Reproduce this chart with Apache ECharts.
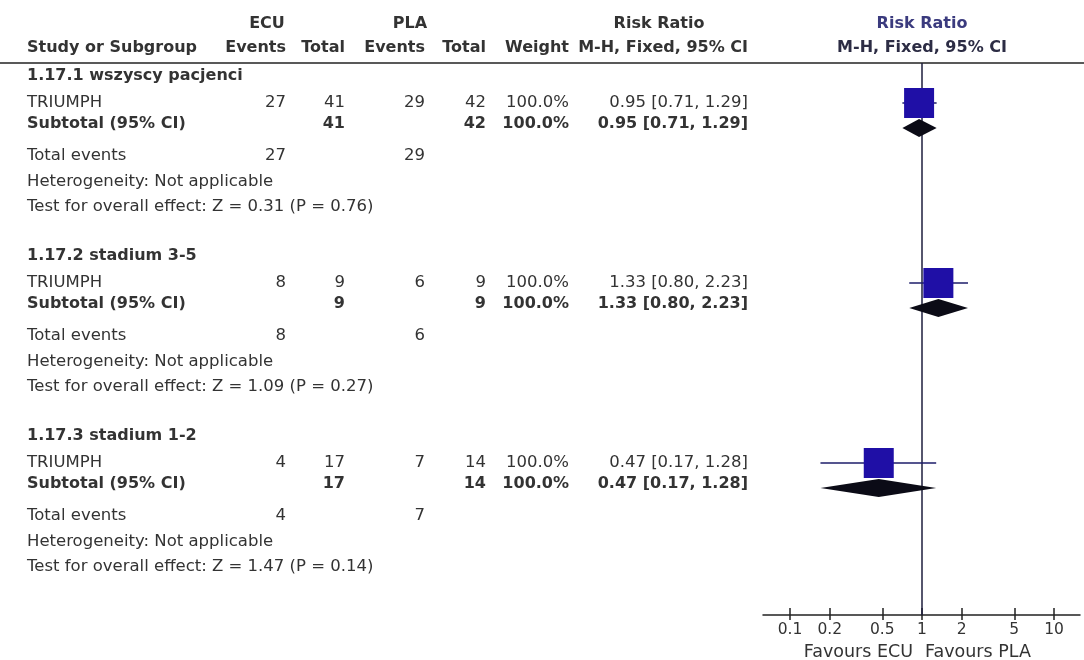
<!DOCTYPE html>
<html>
<head>
<meta charset="utf-8">
<script src="https://cdn.jsdelivr.net/npm/echarts@6/dist/echarts.min.js"></script>
<style>
  html, body { margin: 0; padding: 0; background: #ffffff; }
  #chart { width: 1084px; height: 660px; }
</style>
</head>
<body>
<div id="chart"></div>
<script>
// ---- data -------------------------------------------------------------
const subgroups = ['1.17.1 wszyscy pacjenci', '1.17.2 stadium 3-5', '1.17.3 stadium 1-2'];
const studies = ['TRIUMPH', 'TRIUMPH', 'TRIUMPH'];
const ecuEvents = [27, 8, 4];
const ecuTotal = [41, 9, 17];
const plaEvents = [29, 6, 7];
const plaTotal = [42, 9, 14];
const weights = [100.0, 100.0, 100.0];
const studyRR = [0.95, 1.33, 0.47];
const studyLow = [0.71, 0.80, 0.17];
const studyHigh = [1.29, 2.23, 1.28];
const subtotalRR = [0.95, 1.33, 0.47];
const subtotalLow = [0.71, 0.80, 0.17];
const subtotalHigh = [1.29, 2.23, 1.28];
const zValues = [0.31, 1.09, 1.47];
const pValues = [0.76, 0.27, 0.14];
const tickValues = [0.1, 0.2, 0.5, 1, 2, 5, 10];
const groupNames = ['ECU', 'PLA'];

// ---- layout -----------------------------------------------------------
const FONT = '"DejaVu Sans", "Liberation Sans", sans-serif';
const SIZE = 16.5;
const BOLD_SIZE = 16;
const TEXT = '#333333';
const GROUP_TOP = [76, 256, 436];
const OFF = { title: 0, study: 27, subtotal: 48, total: 80, het: 106, test: 131 };
const COL = { name: 27, ecuEv: 286, ecuTot: 345, plaEv: 425, plaTot: 486, weight: 569, ci: 748 };
const HEAD1 = 24, HEAD2 = 48, RULE = 63, AXIS_Y = 615;
const PLOT_LEFT = 763, PLOT_RIGHT = 1080;
const X_MIN = -1.205, X_MAX = 1.197;   // log10(RR) range of the plot area
const SQUARE_MAX = 30;
const DIAMOND_HALF = 9;

const fmt2 = v => v.toFixed(2);
const ciText = (e, l, h) => fmt2(e) + ' [' + fmt2(l) + ', ' + fmt2(h) + ']';

const graphics = [];
function txt(x, y, text, align, bold, color, size) {
  graphics.push({
    type: 'text', silent: true, z: 10,
    style: {
      x: x, y: y, text: text,
      align: align || 'left', verticalAlign: 'middle',
      fill: color || TEXT,
      font: (bold ? 'bold ' : '') + (size || (bold ? BOLD_SIZE : SIZE)) + 'px ' + FONT
    }
  });
}

// column headers
txt(267, HEAD1, groupNames[0], 'center', true);
txt(410, HEAD1, groupNames[1], 'center', true);
txt(659, HEAD1, 'Risk Ratio', 'center', true);
txt(922, HEAD1, 'Risk Ratio', 'center', true, '#3b3b7e');
txt(COL.name, HEAD2, 'Study or Subgroup', 'left', true);
txt(COL.ecuEv, HEAD2, 'Events', 'right', true);
txt(COL.ecuTot, HEAD2, 'Total', 'right', true);
txt(COL.plaEv, HEAD2, 'Events', 'right', true);
txt(COL.plaTot, HEAD2, 'Total', 'right', true);
txt(COL.weight, HEAD2, 'Weight', 'right', true);
txt(COL.ci, HEAD2, 'M-H, Fixed, 95% CI', 'right', true);
txt(922, HEAD2, 'M-H, Fixed, 95% CI', 'center', true, '#2c2c44');
graphics.push({
  type: 'line', silent: true,
  shape: { x1: 0, y1: RULE, x2: 1084, y2: RULE },
  style: { stroke: '#222222', lineWidth: 1.5 }
});

// subgroup blocks
subgroups.forEach((name, g) => {
  const top = GROUP_TOP[g];
  txt(COL.name, top + OFF.title, name, 'left', true);

  const ys = top + OFF.study;
  txt(COL.name, ys, studies[g]);
  txt(COL.ecuEv, ys, String(ecuEvents[g]), 'right');
  txt(COL.ecuTot, ys, String(ecuTotal[g]), 'right');
  txt(COL.plaEv, ys, String(plaEvents[g]), 'right');
  txt(COL.plaTot, ys, String(plaTotal[g]), 'right');
  txt(COL.weight, ys, weights[g].toFixed(1) + '%', 'right');
  txt(COL.ci, ys, ciText(studyRR[g], studyLow[g], studyHigh[g]), 'right');

  const yt = top + OFF.subtotal;
  txt(COL.name, yt, 'Subtotal (95% CI)', 'left', true);
  txt(COL.ecuTot, yt, String(ecuTotal[g]), 'right', true);
  txt(COL.plaTot, yt, String(plaTotal[g]), 'right', true);
  txt(COL.weight, yt, weights[g].toFixed(1) + '%', 'right', true);
  txt(COL.ci, yt, ciText(subtotalRR[g], subtotalLow[g], subtotalHigh[g]), 'right', true);

  txt(COL.name, top + OFF.total, 'Total events');
  txt(COL.ecuEv, top + OFF.total, String(ecuEvents[g]), 'right');
  txt(COL.plaEv, top + OFF.total, String(plaEvents[g]), 'right');
  txt(COL.name, top + OFF.het, 'Heterogeneity: Not applicable');
  txt(COL.name, top + OFF.test,
      'Test for overall effect: Z = ' + fmt2(zValues[g]) + ' (P = ' + fmt2(pValues[g]) + ')');
});

// axis captions
txt(913, 652, 'Favours ' + groupNames[0], 'right', false, TEXT, 17.5);
txt(925, 652, 'Favours ' + groupNames[1], 'left', false, TEXT, 17.5);

// ---- series data (x in log10 of the risk ratio) -----------------------
const studyData = subgroups.map((_, g) => [
  Math.log10(studyRR[g]), GROUP_TOP[g] + OFF.study,
  Math.log10(studyLow[g]), Math.log10(studyHigh[g]), weights[g]
]);
const subtotalData = subgroups.map((_, g) => [
  Math.log10(subtotalRR[g]), GROUP_TOP[g] + OFF.subtotal + 4,
  Math.log10(subtotalLow[g]), Math.log10(subtotalHigh[g])
]);
const logTicks = tickValues.map(v => Math.log10(v));
const tickLabel = v => String(+Math.pow(10, v).toPrecision(3));

const chart = echarts.init(document.getElementById('chart'), null, { renderer: 'canvas' });
chart.setOption({
  animation: false,
  backgroundColor: '#ffffff',
  grid: { left: PLOT_LEFT, right: 1084 - PLOT_RIGHT, top: RULE, bottom: 660 - AXIS_Y, containLabel: false },
  xAxis: [{
    type: 'value', min: X_MIN, max: X_MAX, position: 'bottom',
    splitLine: { show: false },
    axisLine: { show: true, onZero: false, lineStyle: { color: '#222222', width: 1.5 } },
    axisTick: { show: true, inside: false, length: 5, customValues: logTicks,
                lineStyle: { color: '#222222', width: 1.5 } },
    axisLabel: { show: true, customValues: logTicks, formatter: tickLabel, margin: 7,
                 color: TEXT, fontFamily: FONT, fontSize: 15.5 }
  }, {
    type: 'value', min: X_MIN, max: X_MAX, position: 'bottom',
    splitLine: { show: false },
    axisLine: { show: false },
    axisTick: { show: true, inside: true, length: 7, customValues: logTicks,
                lineStyle: { color: '#222222', width: 1.5 } },
    axisLabel: { show: false }
  }],
  yAxis: {
    type: 'value', inverse: true, min: RULE, max: AXIS_Y, show: false
  },
  graphic: graphics,
  series: [{
    // line of no effect (RR = 1), drawn beneath the markers
    type: 'line', name: 'no effect', xAxisIndex: 0, data: [], z: 1,
    markLine: {
      z: 1,
      silent: true, symbol: 'none', label: { show: false },
      lineStyle: { color: '#1e1e3c', width: 1.5, type: 'solid' },
      data: [{ xAxis: 0 }]
    }
  }, {
    type: 'custom', name: 'study', xAxisIndex: 0,
    encode: { x: [0, 2, 3], y: 1 },
    data: studyData,
    z: 4,
    renderItem: (params, api) => {
      const y = api.value(1);
      const a = api.coord([api.value(2), y]);
      const b = api.coord([api.value(3), y]);
      const c = api.coord([api.value(0), y]);
      const s = SQUARE_MAX * Math.sqrt(api.value(4) / 100);
      return {
        type: 'group',
        children: [
          { type: 'line', shape: { x1: a[0], y1: a[1], x2: b[0], y2: b[1] },
            style: { stroke: '#1c1c6a', lineWidth: 1.5 } },
          { type: 'rect', shape: { x: c[0] - s / 2, y: c[1] - s / 2, width: s, height: s },
            style: { fill: '#1f0fa6' } }
        ]
      };
    }
  }, {
    type: 'custom', name: 'subtotal', xAxisIndex: 0,
    encode: { x: [0, 2, 3], y: 1 },
    data: subtotalData,
    z: 3,
    renderItem: (params, api) => {
      const y = api.value(1);
      const a = api.coord([api.value(2), y]);
      const b = api.coord([api.value(3), y]);
      const c = api.coord([api.value(0), y]);
      return {
        type: 'polygon',
        shape: { points: [[a[0], a[1]], [c[0], c[1] - DIAMOND_HALF], [b[0], b[1]], [c[0], c[1] + DIAMOND_HALF]] },
        style: { fill: '#0b0b16' }
      };
    }
  }]
});
</script>
</body>
</html>
